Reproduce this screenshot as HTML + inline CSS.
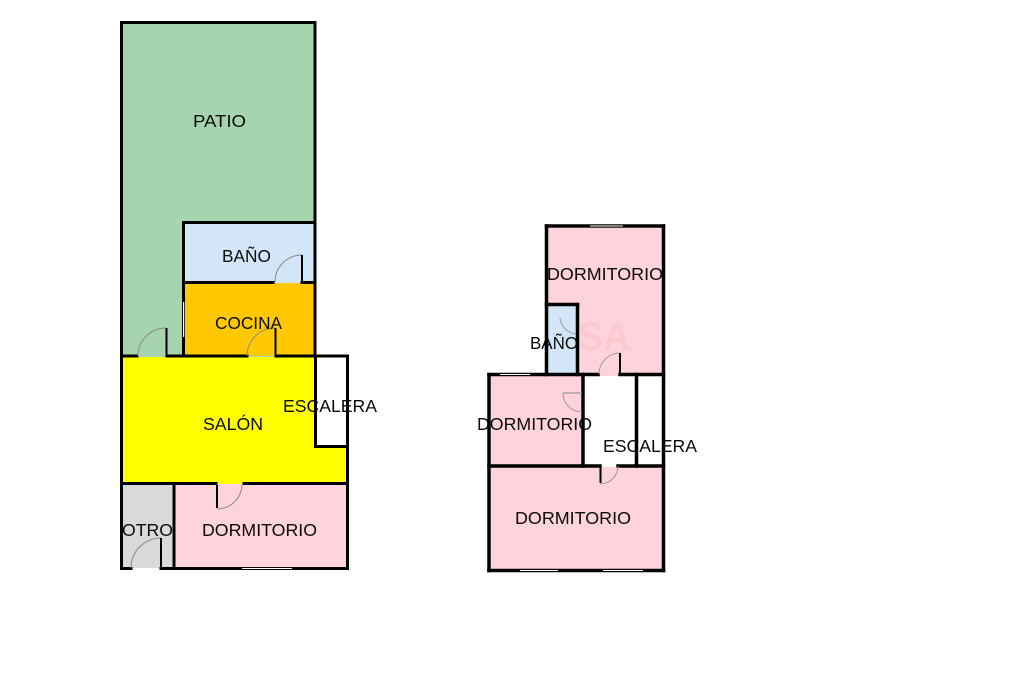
<!DOCTYPE html>
<html><head><meta charset="utf-8">
<style>
html,body{margin:0;padding:0;background:#fff;}
svg{display:block;}
text{font-family:"Liberation Sans",Arial,sans-serif;font-size:17.5px;fill:#0a0a0a;}
</style></head>
<body>
<svg width="1024" height="682" viewBox="0 0 1024 682" xmlns="http://www.w3.org/2000/svg">
<rect width="1024" height="682" fill="#fff"/>
<!-- ========== FIRST FLOOR ========== -->
<rect x="122" y="23" width="193" height="334" fill="#A6D4AF"/>
<rect x="184" y="223" width="131" height="60" fill="#D3E6F8"/>
<rect x="184" y="283" width="131" height="73" fill="#FFC800"/>
<rect x="122" y="357" width="225" height="127" fill="#FFFF00"/>
<rect x="316" y="357" width="31" height="89" fill="#fff"/>
<rect x="122" y="484" width="52" height="84" fill="#D9D9D9"/>
<rect x="174" y="484" width="173" height="84" fill="#FFD3DC"/>

<g stroke="#000" stroke-width="3" fill="none" stroke-linecap="square">
  <line x1="121.5" y1="22.5" x2="315" y2="22.5"/>
  <line x1="121.5" y1="22.5" x2="121.5" y2="568.5"/>
  <line x1="315" y1="22.5" x2="315" y2="356"/>
  <line x1="183.5" y1="222.5" x2="315" y2="222.5"/>
  <line x1="183.5" y1="222.5" x2="183.5" y2="356"/>
  <line x1="183.5" y1="282.5" x2="273" y2="282.5"/>
  <line x1="302" y1="282.5" x2="315" y2="282.5"/>
  <line x1="121.5" y1="356" x2="137" y2="356"/>
  <line x1="167" y1="356" x2="247" y2="356"/>
  <line x1="276" y1="356" x2="347.5" y2="356"/>
  <line x1="347.5" y1="356" x2="347.5" y2="568.5"/>
  <line x1="315.5" y1="356" x2="315.5" y2="446.5"/>
  <line x1="315.5" y1="446.5" x2="347.5" y2="446.5"/>
  <line x1="121.5" y1="483.5" x2="216" y2="483.5"/>
  <line x1="244" y1="483.5" x2="347.5" y2="483.5"/>
  <line x1="174" y1="483.5" x2="174" y2="568.5"/>
  <line x1="121.5" y1="568.5" x2="131" y2="568.5"/>
  <line x1="161" y1="568.5" x2="347.5" y2="568.5"/>
</g>
<rect x="183" y="302" width="1.2" height="35" fill="#fff"/>
<rect x="242" y="568" width="50" height="1" fill="#fff"/>
<g stroke="#888" stroke-width="1" fill="none">
  <path d="M302 255 A27 27 0 0 0 275 282"/>
  <path d="M166 328 A28 28 0 0 0 138 356"/>
  <path d="M275 328 A28 28 0 0 0 247 356"/>
  <path d="M217 509 A25 25 0 0 0 242 485"/>
  <path d="M161 538 A30 30 0 0 0 131 568"/>
</g>
<g stroke="#000" stroke-width="2">
  <line x1="302" y1="255" x2="302" y2="282"/>
  <line x1="166.5" y1="328" x2="166.5" y2="356"/>
  <line x1="275.5" y1="328" x2="275.5" y2="356"/>
  <line x1="217" y1="485" x2="217" y2="508"/>
  <line x1="161" y1="538" x2="161" y2="568"/>
</g>

<!-- ========== SECOND FLOOR ========== -->
<rect x="548" y="228" width="114" height="148" fill="#FFD3DC"/>
<text x="578" y="350" style="font-size:40px;font-weight:bold;fill:#fcc8d2;" textLength="52" lengthAdjust="spacingAndGlyphs">SA</text>
<rect x="548" y="306" width="29" height="68" fill="#D3E6F8"/>
<rect x="491" y="376" width="91" height="89" fill="#FFD3DC"/>
<rect x="491" y="467" width="171" height="103" fill="#FFD3DC"/>

<g stroke="#000" stroke-width="3.5" fill="none" stroke-linecap="square">
  <line x1="546.5" y1="226" x2="663.5" y2="226"/>
  <line x1="546.5" y1="226" x2="546.5" y2="374.5"/>
  <line x1="663.5" y1="226" x2="663.5" y2="570.5"/>
  <line x1="546.5" y1="304.5" x2="577.5" y2="304.5"/>
  <line x1="577.5" y1="304.5" x2="577.5" y2="374.5"/>
  <line x1="489" y1="374.5" x2="598" y2="374.5"/>
  <line x1="620" y1="374.5" x2="663.5" y2="374.5"/>
  <line x1="489" y1="374.5" x2="489" y2="570.5"/>
  <line x1="583" y1="374.5" x2="583" y2="466"/>
  <line x1="636.5" y1="374.5" x2="636.5" y2="466"/>
  <line x1="489" y1="466" x2="600" y2="466"/>
  <line x1="618" y1="466" x2="663.5" y2="466"/>
  <line x1="489" y1="570.5" x2="663.5" y2="570.5"/>
</g>
<rect x="590" y="225.5" width="33" height="1" fill="#fff"/>
<rect x="500" y="374" width="30" height="1" fill="#fff"/>
<rect x="520" y="570" width="38" height="1" fill="#fff"/>
<rect x="603" y="570" width="40" height="1" fill="#fff"/>
<g stroke="#999" stroke-width="1" fill="none">
  <path d="M620 353 A21 21 0 0 0 599 374"/>
  <path d="M560 318 A18 18 0 0 0 576 334"/>
  <path d="M563 393 A19 19 0 0 0 582 412"/>
  <path d="M600 484 A18 18 0 0 0 618 466"/>
</g>
<g stroke="#000" stroke-width="2">
  <line x1="620" y1="353" x2="620" y2="374"/>
  <line x1="600.5" y1="467" x2="600.5" y2="483"/>
</g>
<g stroke="#999" stroke-width="1.2">
  <line x1="563" y1="393" x2="582" y2="393"/>
</g>

<!-- ========== LABELS ========== -->
<text x="193" y="127" textLength="53" lengthAdjust="spacingAndGlyphs">PATIO</text>
<text x="222" y="262" textLength="49" lengthAdjust="spacingAndGlyphs">BAÑO</text>
<text x="215" y="329" textLength="67" lengthAdjust="spacingAndGlyphs">COCINA</text>
<text x="203" y="430" textLength="60" lengthAdjust="spacingAndGlyphs">SALÓN</text>
<text x="283" y="412" textLength="94" lengthAdjust="spacingAndGlyphs">ESCALERA</text>
<text x="202" y="536" textLength="115" lengthAdjust="spacingAndGlyphs">DORMITORIO</text>
<text x="122" y="536" textLength="51" lengthAdjust="spacingAndGlyphs">OTRO</text>

<text x="547" y="280" textLength="116" lengthAdjust="spacingAndGlyphs">DORMITORIO</text>
<text x="530" y="349" textLength="48" lengthAdjust="spacingAndGlyphs">BAÑO</text>
<text x="477" y="430" textLength="115" lengthAdjust="spacingAndGlyphs">DORMITORIO</text>
<text x="603" y="452" textLength="94" lengthAdjust="spacingAndGlyphs">ESCALERA</text>
<text x="515" y="524" textLength="116" lengthAdjust="spacingAndGlyphs">DORMITORIO</text>
</svg>
</body></html>
